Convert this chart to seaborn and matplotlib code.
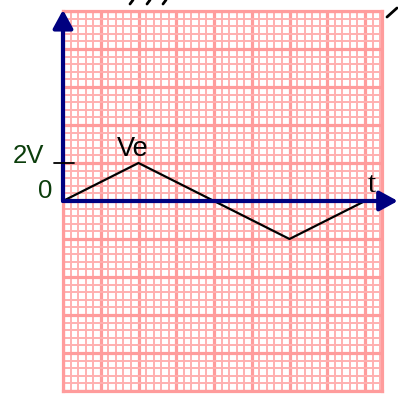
import numpy as np
import seaborn as sns
import matplotlib.pyplot as plt
from matplotlib.lines import Line2D

# triangle wave Ve(t), in grid units (1 major square)
t_vals = [0, 2, 4, 6, 8]
ve_vals = [0, 1, 0, -1, 0]
y_tick_pos = [1]
y_tick_labels = ['2V']

sns.set_style('white')
plt.rcParams['font.family'] = ['Liberation Sans', 'DejaVu Sans']

fig = plt.figure(figsize=(3.98, 3.94), dpi=100)
ax = fig.add_axes([63 / 398, 3 / 394, 319 / 398, 380 / 394])
ax.set_xlim(0, 8.45)
ax.set_ylim(-5, 5)

# graph paper
ax.set_xticks(np.arange(0, 8.5, 1))
ax.set_yticks(np.arange(-5, 5.1, 1))
ax.set_xticks(np.arange(0, 8.45, 0.2), minor=True)
ax.set_yticks(np.arange(-5, 5.01, 0.2), minor=True)
ax.grid(True, which='major', color='#ff9c9c', linewidth=2.3)
ax.grid(True, which='minor', color='#ffb0b0', linewidth=1.4)
ax.tick_params(which='both', length=0, labelbottom=False, labelleft=False)
for s in ax.spines.values():
    s.set_color('#ff9c9c')
    s.set_linewidth(2.3)
ax.set_axisbelow(True)

sns.lineplot(x=t_vals, y=ve_vals, color='black', linewidth=1.6, ax=ax, zorder=5)

# axes arrows
navy = '#000080'
arr = dict(arrowstyle='-|>,head_length=0.55,head_width=0.3', color=navy, lw=3,
           shrinkA=0, shrinkB=0, mutation_scale=20)
ax.annotate('', xy=(0, 5.03), xytext=(0, 0), arrowprops=arr, annotation_clip=False, zorder=6)
ax.annotate('', xy=(8.87, 0), xytext=(0, 0), arrowprops=arr, annotation_clip=False, zorder=6)

# tick + labels
for yp, lab in zip(y_tick_pos, y_tick_labels):
    ax.plot([-0.24, 0.29], [yp, yp], color='black', lw=1.3, clip_on=False, zorder=7)
    ax.text(-0.5, yp + 0.18, lab, ha='right', va='center', fontsize=18.5, color='#0b3d0b')
ax.text(-0.29, 0.26, '0', ha='right', va='center', fontsize=18.5, color='#0b3d0b')
ax.text(1.85, 1.37, 'Ve', ha='center', va='center', fontsize=19.5, color='black')
ax.text(8.19, 0.43, 't', ha='center', va='center', fontsize=21, color='black',
        family=['Liberation Serif', 'DejaVu Serif'])

# cut-off strokes along the top edge
for x0 in (130, 147, 163):
    fig.add_artist(Line2D([x0 / 398, (x0 + 3) / 398], [1 - 4 / 394, 1], color='black', lw=2))
fig.add_artist(Line2D([387 / 398, 397 / 398], [1 - 17 / 394, 1 - 8 / 394], color='black', lw=2))

fig.savefig('out.png', dpi=100)
